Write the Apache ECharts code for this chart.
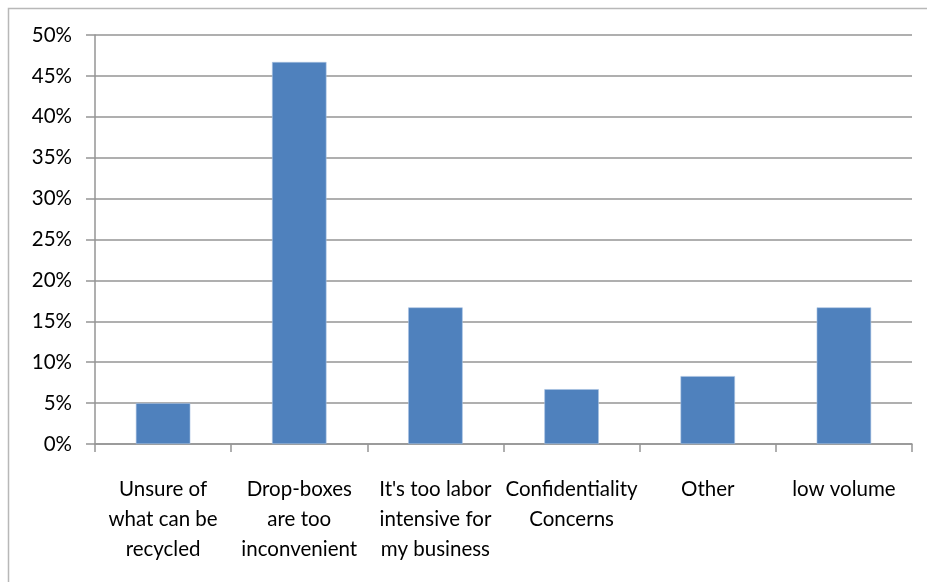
<!DOCTYPE html>
<html>
<head>
<meta charset="utf-8">
<script src="https://cdn.jsdelivr.net/npm/echarts@6/dist/echarts.min.js"></script>
<style>
  html, body { margin: 0; padding: 0; background: #fff; }
  #chart { width: 927px; height: 582px; }
</style>
</head>
<body>
<div id="chart"></div>
<script>
// Reasons for not recycling (share of respondents)
const categories = [
  'Unsure of\nwhat can be\nrecycled',
  'Drop-boxes\nare too\ninconvenient',
  "It's too labor\nintensive for\nmy business",
  'Confidentiality\nConcerns',
  'Other',
  'low volume'
];
const shares = [5.0, 46.7, 16.7, 6.7, 8.3, 16.7];
const yTicks = { min: 0, max: 50, step: 5 };

const FONT = 'Lato, "Open Sans", sans-serif';
const GRID_COLOR = '#959595';

const chart = echarts.init(document.getElementById('chart'), null, { renderer: 'canvas' });
chart.setOption({
  animation: false,
  backgroundColor: '#ffffff',
  graphic: [{
    type: 'rect',
    shape: { x: 8.5, y: 8.5, width: 1200, height: 1200 },
    style: { fill: 'none', stroke: '#b8b8b8', lineWidth: 1.5 },
    silent: true
  }],
  grid: { left: 95, right: 15, top: 35, bottom: 138, containLabel: false },
  xAxis: {
    type: 'category',
    data: categories,
    axisLine: { show: true, lineStyle: { color: GRID_COLOR, width: 1.5 } },
    axisTick: { show: true, alignWithLabel: false, length: 8, lineStyle: { color: GRID_COLOR, width: 1.5 } },
    axisLabel: {
      interval: 0,
      color: '#000',
      fontFamily: FONT,
      fontSize: 20.5,
      lineHeight: 30,
      margin: 30
    }
  },
  yAxis: {
    type: 'value',
    min: yTicks.min,
    max: yTicks.max,
    interval: yTicks.step,
    axisLine: { show: true, lineStyle: { color: GRID_COLOR, width: 1.5 } },
    axisTick: { show: true, length: 9, lineStyle: { color: GRID_COLOR, width: 1.5 } },
    splitLine: { show: true, lineStyle: { color: GRID_COLOR, width: 1.5 } },
    axisLabel: {
      color: '#000',
      fontFamily: FONT,
      fontSize: 20.5,
      margin: 23,
      formatter: v => v + '%'
    }
  },
  series: [{
    type: 'bar',
    data: shares,
    barWidth: '40%',
    itemStyle: { color: '#4F81BD', borderColor: '#a9c3e3', borderWidth: 0.6 },
    silent: true
  }]
});
</script>
</body>
</html>
